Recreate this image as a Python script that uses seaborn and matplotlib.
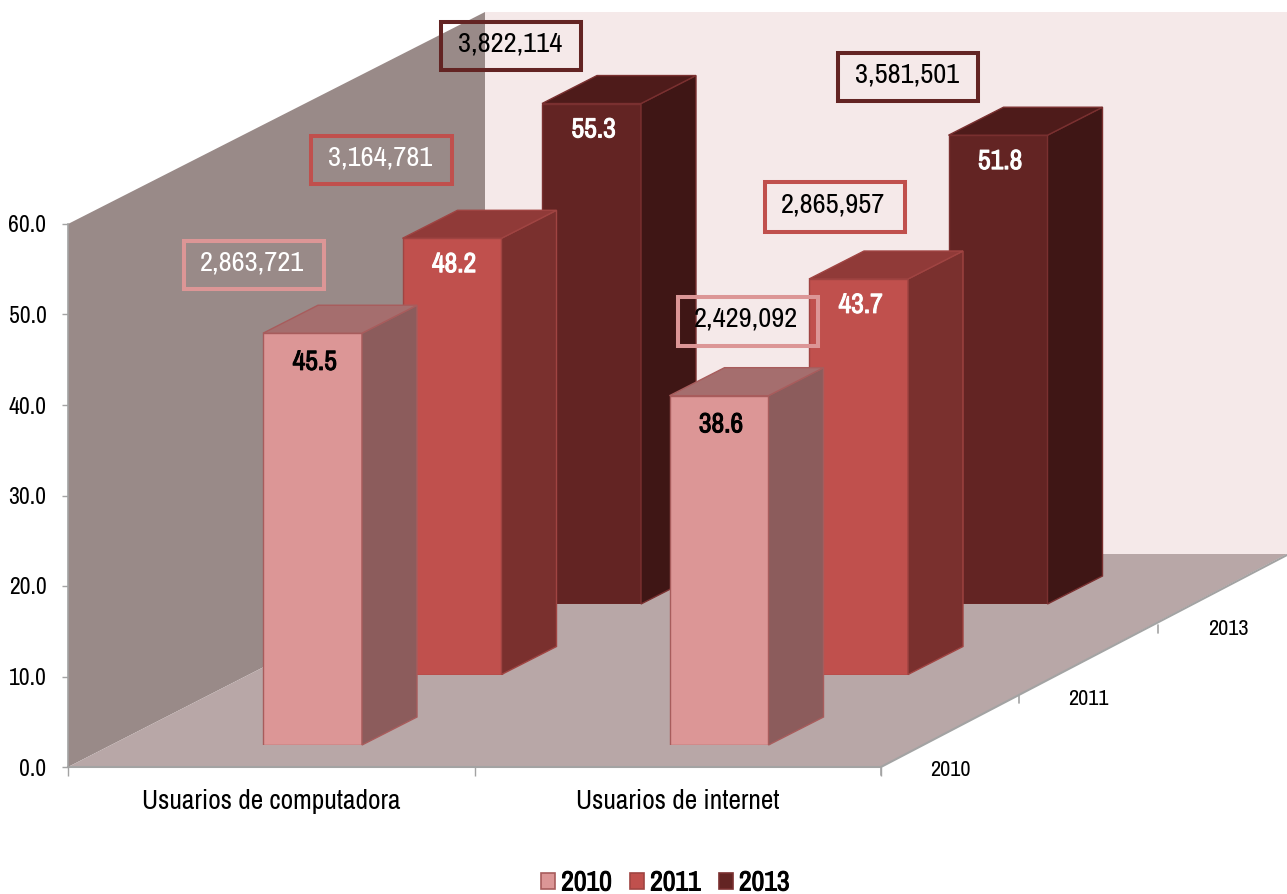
import pandas as pd
import seaborn as sns
import matplotlib.pyplot as plt
import matplotlib.patheffects as pe
from matplotlib import font_manager
from matplotlib.patches import Patch, Polygon, Rectangle

# --- Data ---
categorias = ["Usuarios de computadora", "Usuarios de internet"]
anios = ["2010", "2011", "2013"]
pct_2010 = [45.5, 38.6]
pct_2011 = [48.2, 43.7]
pct_2013 = [55.3, 51.8]
usuarios_2010 = ["2,863,721", "2,429,092"]
usuarios_2011 = ["3,164,781", "2,865,957"]
usuarios_2013 = ["3,822,114", "3,581,501"]
y_ticks = [0, 10, 20, 30, 40, 50, 60]

df = pd.DataFrame({
    "categoria": categorias * 3,
    "anio": [a for a in anios for _ in categorias],
    "pct": pct_2010 + pct_2011 + pct_2013,
})

# --- Styles ---
W, H = 1287, 894
sns.set_theme(style="white")
names = {f.name for f in font_manager.fontManager.ttflist}
narrow = next((n for n in ["Archivo Narrow", "Roboto Condensed", "Liberation Sans"] if n in names), "DejaVu Sans")
plt.rcParams["font.family"] = [narrow]

front = {"2010": "#dc9696", "2011": "#c0504d", "2013": "#632423"}
top = {"2010": "#a56e6e", "2011": "#903a38", "2013": "#4e1b1a"}
side = {"2010": "#8c5c5c", "2011": "#7a302e", "2013": "#3f1615"}
edge = {"2010": "#a85c5c", "2011": "#a04442", "2013": "#7a3030"}
label_col = {"2010": "black", "2011": "white", "2013": "white"}
label_drop = {"2010": -21, "2011": -19, "2013": -19}
grey = "#a3a3a3"

# pixel layout of the fake 3d box
x0, x1, y0, y60 = 68, 881, 767, 224
depth_dx, depth_dy = 139.5, 70.5
bar_dx, bar_dy = 55, 28
bar_w = 99 / 406.5
unit_x = (x1 - x0) / 2
unit_y = (y0 - y60) / 60


def px_axes(fig, left, right, bottom, top_px, **kw):
    return fig.add_axes([left / W, 1 - bottom / H, (right - left) / W, (bottom - top_px) / H], **kw)


def fake_bold(color):
    # the narrow font has no bold face, so thicken it with a stroke
    return [pe.withStroke(linewidth=0.7, foreground=color)]


fig = plt.figure(figsize=(W / 100, H / 100), dpi=100, facecolor="white")

# --- Walls and floor ---
bg = fig.add_axes([0, 0, 1, 1])
bg.set_xlim(0, W)
bg.set_ylim(H, 0)
bg.axis("off")
bg.add_patch(Polygon([(485, 12), (W, 12), (W, 554), (485, 554)], fc="#f5e9e9", ec="none"))
bg.add_patch(Polygon([(x0, y60), (485, 12), (485, 554), (x0, y0)], fc="#998a88", ec="none"))
bg.add_patch(Polygon([(x0, y0), (x1, y0), (W, 554), (485, 554)], fc="#b8a7a7", ec="none"))
bg.plot([x1, W], [y0, 555], color=grey, lw=1.5)
for tx, ty in [(x1, 767), (1019, 695), (1158, 625)]:
    bg.plot([tx, tx], [ty, ty + 8], color=grey, lw=1.2)

# --- Axis frame ---
frame = px_axes(fig, x0, x1, y0, y60)
frame.patch.set_alpha(0)
frame.set_xlim(-0.5, 1.5)
frame.set_ylim(0, 60)
frame.set_yticks(y_ticks)
frame.set_yticklabels([f"{t:.1f}" for t in y_ticks], fontsize=17, color="black")
frame.set_xticks(range(len(categorias)))
frame.set_xticklabels(categorias, fontsize=19.7, color="black")
frame.set_xticks([-0.5, 0.5, 1.5], minor=True)
frame.tick_params(axis="x", which="major", length=0, pad=16)
frame.tick_params(axis="x", which="minor", length=6.5, width=1, color=grey, bottom=True)
frame.tick_params(axis="y", length=4.5, width=1, color=grey, left=True, pad=11)
sns.despine(ax=frame)
frame.spines["left"].set_color(grey)
frame.spines["bottom"].set_color(grey)
frame.spines["left"].set_linewidth(1.2)
frame.spines["bottom"].set_linewidth(1.5)

# --- Bars, back row first ---
for depth in [2, 1, 0]:
    anio = anios[depth]
    left = x0 + 41.25 + depth_dx * depth
    base = y0 - 22 - depth_dy * depth
    ax = px_axes(fig, left, left + x1 - x0, base, base - 60 * unit_y)
    ax.patch.set_alpha(0)
    sub = df[df["anio"] == anio]
    sns.barplot(data=sub, x="categoria", y="pct", color=front[anio], saturation=1,
                width=bar_w, edgecolor=edge[anio], linewidth=1, ax=ax)
    ax.set_xlim(-0.5, 1.5)
    ax.set_ylim(0, 60)
    ax.axis("off")
    ddx, ddy = bar_dx / unit_x, bar_dy / unit_y
    for bar in ax.patches:
        xa, xb, h = bar.get_x(), bar.get_x() + bar.get_width(), bar.get_height()
        ax.add_patch(Polygon([(xb, 0), (xb + ddx, ddy), (xb + ddx, h + ddy), (xb, h)],
                             fc=side[anio], ec=edge[anio], lw=1, clip_on=False))
        ax.add_patch(Polygon([(xa, h), (xb, h), (xb + ddx, h + ddy), (xa + ddx, h + ddy)],
                             fc=top[anio], ec=edge[anio], lw=1, clip_on=False))
        ax.annotate(f"{h:.1f}", ((xa + xb) / 2, h), xytext=(1.5, label_drop[anio]), textcoords="offset points",
                    ha="center", va="center", fontsize=20, fontweight="bold", color=label_col[anio],
                    path_effects=fake_bold(label_col[anio]))

# --- Boxes with user counts ---
over = fig.add_axes([0, 0, 1, 1])
over.patch.set_alpha(0)
over.set_xlim(0, W)
over.set_ylim(H, 0)
over.axis("off")
cajas = [
    (usuarios_2010[0], 184, 241, 140, 48, "#dc9696", "white", 252),
    (usuarios_2011[0], 311, 136, 141, 48, "#c0504d", "white", 380),
    (usuarios_2013[0], 441, 22, 140, 48, "#632423", "black", 510),
    (usuarios_2010[1], 678, 297, 140, 49, "#dc9696", "black", 746),
    (usuarios_2011[1], 765, 182, 140, 50, "#c0504d", "black", 833),
    (usuarios_2013[1], 838, 53, 140, 48, "#632423", "black", 907),
]
for txt, bx, by, bw, bh, ec, col, cx in cajas:
    over.add_patch(Rectangle((bx, by), bw, bh, fc="none", ec=ec, lw=2.9))
    over.text(cx, by + bh / 2 - 2, txt, ha="center", va="center", fontsize=20.5, color=col)

# depth axis labels
for anio, lx, ly in zip(anios, [950, 1088, 1228], [770, 699, 629]):
    over.text(lx, ly, anio, ha="center", va="center", fontsize=16, color="black")

# --- Legend ---
handles = [Patch(fc=front[a], ec=edge[a], lw=1.2, label=a) for a in anios]
leg = fig.legend(handles=handles, loc="center", bbox_to_anchor=(665.5 / W, 1 - 883 / H), ncol=3, frameon=False,
                 prop={"size": 20, "weight": "bold"}, handlelength=0.5, handleheight=0.5,
                 handletextpad=0.22, columnspacing=0.65, borderpad=0, borderaxespad=0)
for t in leg.get_texts():
    t.set_color("black")
    t.set_path_effects(fake_bold("black"))

fig.savefig("out.png", dpi=100, facecolor="white")
